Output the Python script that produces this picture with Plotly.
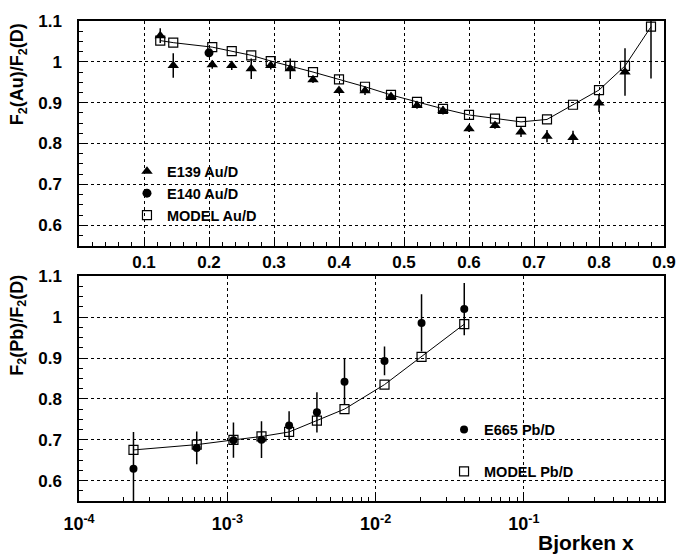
import numpy as np
import plotly.graph_objects as go

# ---- Au/D : F2 ratio versus Bjorken x (linear axis) ----
x_e139 = [0.125, 0.145, 0.205, 0.235, 0.265, 0.295, 0.325, 0.36, 0.40, 0.44,
          0.48, 0.52, 0.56, 0.60, 0.64, 0.68, 0.72, 0.76, 0.80, 0.84]
y_e139 = [1.064, 0.991, 0.993, 0.991, 0.983, 0.991, 0.983, 0.956, 0.930, 0.929,
          0.915, 0.893, 0.881, 0.836, 0.844, 0.828, 0.818, 0.815, 0.899, 0.975]
e_e139 = [0.018, 0.030, 0.010, 0.011, 0.025, 0.010, 0.025, 0.008, 0.008, 0.010,
          0.008, 0.008, 0.010, 0.008, 0.008, 0.012, 0.015, 0.016, 0.022, 0.058]

x_e140 = [0.20]
y_e140 = [1.022]
e_e140 = [0.008]

x_model_au = [0.125, 0.145, 0.205, 0.235, 0.265, 0.295, 0.325, 0.36, 0.40, 0.44,
              0.48, 0.52, 0.56, 0.60, 0.64, 0.68, 0.72, 0.76, 0.80, 0.84, 0.88]
y_model_au = [1.052, 1.047, 1.036, 1.026, 1.016, 1.002, 0.990, 0.975, 0.957, 0.939,
              0.919, 0.902, 0.885, 0.870, 0.861, 0.853, 0.859, 0.895, 0.931, 0.990, 1.086]
e_model_au = [0] * 20 + [0.127]

# ---- Pb/D : F2 ratio versus Bjorken x (log axis) ----
x_pb = [2.33e-4, 6.22e-4, 1.10e-3, 1.70e-3, 2.61e-3, 4.02e-3, 6.17e-3,
        1.148e-2, 2.04e-2, 3.96e-2]
y_e665 = [0.629, 0.680, 0.699, 0.700, 0.735, 0.767, 0.842, 0.893, 0.986, 1.020]
e_e665 = [0.090, 0.040, 0.043, 0.045, 0.035, 0.049, 0.056, 0.035, 0.070, 0.064]
y_model_pb = [0.675, 0.688, 0.6995, 0.708, 0.719, 0.747, 0.775, 0.835, 0.903, 0.983]

# axis labels
x_lin_ticks = [0.1, 0.2, 0.3, 0.4, 0.5, 0.6, 0.7, 0.8, 0.9]
y_ticks = [0.6, 0.7, 0.8, 0.9, 1.0, 1.1]
y_ticktext = ["0.6", "0.7", "0.8", "0.9", "1", "1.1"]
log_decades = [-4, -3, -2, -1]
log_ticktext = ["10<sup>-4</sup>", "10<sup>-3</sup>", "10<sup>-2</sup>", "10<sup>-1</sup>"]

FONT = "Liberation Sans, Arial, Helvetica, sans-serif"
BLACK = "black"

err_style = dict(type="data", thickness=1.5, width=0, color=BLACK)

fig = go.Figure()

# top panel
fig.add_trace(go.Scatter(
    x=x_model_au, y=y_model_au, mode="lines", line=dict(color=BLACK, width=1),
    showlegend=False, hoverinfo="skip", xaxis="x", yaxis="y"))
fig.add_trace(go.Scatter(
    x=x_e139, y=y_e139, mode="markers", name="E139 Au/D",
    marker=dict(symbol="triangle-up", size=10, color=BLACK),
    error_y=dict(array=e_e139, **err_style), legend="legend", xaxis="x", yaxis="y"))
fig.add_trace(go.Scatter(
    x=x_e140, y=y_e140, mode="markers", name="E140 Au/D",
    marker=dict(symbol="circle", size=9, color=BLACK),
    error_y=dict(array=e_e140, **err_style), legend="legend", xaxis="x", yaxis="y"))
fig.add_trace(go.Scatter(
    x=x_model_au, y=y_model_au, mode="markers", name="MODEL Au/D",
    marker=dict(symbol="square-open", size=9, color=BLACK, line=dict(width=1.2)),
    error_y=dict(array=e_model_au, **err_style), legend="legend", xaxis="x", yaxis="y"))

# bottom panel
fig.add_trace(go.Scatter(
    x=x_pb, y=y_model_pb, mode="lines", line=dict(color=BLACK, width=1),
    showlegend=False, hoverinfo="skip", xaxis="x2", yaxis="y2"))
fig.add_trace(go.Scatter(
    x=x_pb, y=y_e665, mode="markers", name="E665 Pb/D", legendgroup="e665",
    marker=dict(symbol="circle", size=8, color=BLACK),
    error_y=dict(array=e_e665, **err_style), legend="legend2", xaxis="x2", yaxis="y2"))
fig.add_trace(go.Scatter(
    x=x_pb, y=y_model_pb, mode="markers", name="MODEL Pb/D", legendgroup="model",
    marker=dict(symbol="square-open", size=9, color=BLACK, line=dict(width=1.2)),
    legend="legend2", xaxis="x2", yaxis="y2"))

tickfont = dict(family=FONT, size=17, color=BLACK, weight="bold")
common = dict(
    showgrid=True, gridcolor=BLACK, gridwidth=1, griddash="dot",
    showline=True, linecolor=BLACK, linewidth=1.5, mirror=True,
    ticks="inside", tickcolor=BLACK, tickwidth=1, zeroline=False,
    tickfont=tickfont,
)

minor_log = [m * 10.0 ** d for d in range(-4, 0) for m in range(2, 10)]
legend_font = dict(family=FONT, size=14.5, color=BLACK, weight="bold")

fig.update_layout(
    width=688, height=556,
    margin=dict(l=79, r=15, t=14, b=55),
    paper_bgcolor="white", plot_bgcolor="white",
    font=dict(family=FONT, color=BLACK),
    xaxis=dict(domain=[0, 1], anchor="y", range=[0, 0.9],
               tickmode="array", tickvals=x_lin_ticks, ticklen=8,
               ticklabelstandoff=0,
               minor=dict(dtick=0.02, tick0=0, ticks="inside", ticklen=4,
                          tickcolor=BLACK, showgrid=False), **common),
    yaxis=dict(domain=[0.532, 1], anchor="x", range=[0.55, 1.1],
               tickmode="array", tickvals=y_ticks, ticktext=y_ticktext, ticklen=8,
               ticklabelstandoff=12,
               minor=dict(dtick=0.025, tick0=0.5, ticks="inside", ticklen=4,
                          tickcolor=BLACK, showgrid=False), **common),
    xaxis2=dict(domain=[0, 1], anchor="y2", type="log",
                range=[-4, float(np.log10(0.88))],
                tickmode="array", tickvals=[10.0 ** d for d in log_decades],
                ticktext=log_ticktext, ticklen=8, ticklabelstandoff=6,
                minor=dict(tickmode="array", tickvals=minor_log, ticks="inside",
                           ticklen=4, tickcolor=BLACK, showgrid=False),
                **{**common, "tickfont": dict(family=FONT, size=18, color=BLACK, weight="bold")}),
    yaxis2=dict(domain=[0, 0.468], anchor="x2", range=[0.55, 1.1],
                tickmode="array", tickvals=y_ticks, ticktext=y_ticktext, ticklen=8,
                ticklabelstandoff=12,
                minor=dict(dtick=0.025, tick0=0.5, ticks="inside", ticklen=4,
                           tickcolor=BLACK, showgrid=False), **common),
    legend=dict(x=0.082, y=0.72, xanchor="left", yanchor="top",
                bgcolor="rgba(0,0,0,0)", borderwidth=0,
                font=legend_font, tracegroupgap=0),
    legend2=dict(x=0.624, y=0.182, xanchor="left", yanchor="top",
                 bgcolor="rgba(0,0,0,0)", borderwidth=0, traceorder="grouped",
                 tracegroupgap=20, font=legend_font),
    annotations=[
        dict(text="F<sub>2</sub>(Au)/F<sub>2</sub>(D)", textangle=-90,
             xref="paper", yref="paper", x=-0.104, y=1.0,
             xanchor="center", yanchor="top", showarrow=False,
             font=dict(family=FONT, size=18, color=BLACK, weight="bold")),
        dict(text="F<sub>2</sub>(Pb)/F<sub>2</sub>(D)", textangle=-90,
             xref="paper", yref="paper", x=-0.104, y=0.475,
             xanchor="center", yanchor="top", showarrow=False,
             font=dict(family=FONT, size=18, color=BLACK, weight="bold")),
        dict(text="Bjorken x", xref="paper", yref="paper",
             x=0.952, y=-0.086, xanchor="right", yanchor="middle",
             showarrow=False,
             font=dict(family=FONT, size=21, color=BLACK, weight="bold")),
    ],
)

fig.write_html("out.html")
